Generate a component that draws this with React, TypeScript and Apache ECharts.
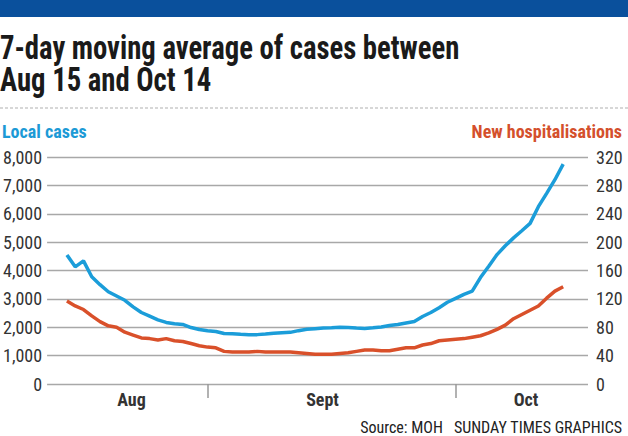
import React, { useEffect, useRef } from "react";
import * as echarts from "echarts";

// Day index: 0 = Aug 15, 17 = Sep 1, 47 = Oct 1, 60 = Oct 14
const localCases: number[] = [
  4550, 4130, 4340, 3780, 3500, 3250, 3100, 2950, 2720, 2520,
  2390, 2260, 2170, 2120, 2100, 1990, 1920, 1880, 1850, 1780,
  1770, 1750, 1740, 1740, 1760, 1790, 1810, 1820, 1880, 1930,
  1950, 1970, 1980, 2000, 1990, 1970, 1960, 1980, 2010, 2060,
  2100, 2150, 2200, 2380, 2520, 2690, 2880, 3020, 3160, 3270,
  3750, 4150, 4560, 4870, 5150, 5400, 5660, 6250, 6720, 7200,
  7750,
];
const hospitalisations: number[] = [
  117, 110, 105, 96, 88, 82, 80, 73, 69, 65,
  64, 62, 64, 61, 60, 57, 54, 52, 51, 46,
  45, 45, 45, 46, 45, 45, 45, 45, 44, 43,
  42, 42, 42, 43, 44, 46, 48, 48, 47, 47,
  49, 51, 51, 55, 57, 61, 62, 63, 64, 66,
  68, 72, 77, 83, 92, 98, 104, 110, 121, 131,
  137,
];
const monthTickDays: number[] = [17, 47];
const monthLabelDays: number[] = [7.8, 30.9, 55.5];
const monthLabels: string[] = ["Aug", "Sept", "Oct"];

const NARROW = '"Liberation Sans Narrow", "Roboto Condensed", "Arial Narrow", "Roboto", sans-serif';
const BLUE = "#1b9dd9";
const RED = "#d9502a";

export default function App() {
  const ref = useRef<HTMLDivElement>(null);
  useEffect(() => {
    if (!ref.current) return;
    const chart = echarts.init(ref.current, undefined, { renderer: "svg" });
    const blue = localCases.map((v, i) => [i, v]);
    const red = hospitalisations.map((v, i) => [i, v]);
    chart.setOption({
      animation: false,
      backgroundColor: "#ffffff",
      grid: { left: 45, right: 40, top: 157, bottom: 52 },
      xAxis: {
        type: "value",
        min: -2.4,
        max: 63,
        axisLine: { show: false },
        splitLine: { show: false },
        axisTick: {
          show: true,
          customValues: monthTickDays,
          length: 14,
          lineStyle: { color: "#999999", width: 1.5 },
        },
        axisLabel: {
          customValues: monthLabelDays,
          formatter: (v: number) => {
            const idx = monthLabelDays.findIndex((d) => Math.abs(d - v) < 0.01);
            return idx >= 0 ? monthLabels[idx] : "";
          },
          color: "#333333",
          fontFamily: NARROW,
          fontSize: 18,
          fontWeight: "bold",
          margin: 6,
        },
      },
      yAxis: [
        {
          type: "value",
          min: 0,
          max: 8000,
          interval: 1000,
          axisLine: { show: false },
          axisTick: { show: false },
          splitLine: { lineStyle: { color: "#a8a8a8", width: 1.3 } },
          axisLabel: {
            color: "#333333",
            fontFamily: NARROW,
            fontSize: 18,
            margin: 5,
            formatter: (v: number) => v.toLocaleString("en-US"),
          },
        },
        {
          type: "value",
          min: 0,
          max: 320,
          interval: 40,
          position: "right",
          axisLine: { show: false },
          axisTick: { show: false },
          splitLine: { show: false },
          axisLabel: {
            color: "#333333",
            fontFamily: NARROW,
            fontSize: 18,
            margin: 8,
          },
        },
      ],
      series: [
        {
          type: "line",
          yAxisIndex: 0,
          data: blue,
          showSymbol: false,
          lineStyle: { color: BLUE, width: 3.5 },
          itemStyle: { color: BLUE },
          z: 3,
        },
        {
          type: "line",
          yAxisIndex: 1,
          data: red,
          showSymbol: false,
          lineStyle: { color: RED, width: 3.5 },
          itemStyle: { color: RED },
          z: 2,
        },
      ],
      graphic: [
        { type: "rect", shape: { x: 0, y: 0, width: 628, height: 17 }, style: { fill: "#0a509c" } },
        {
          type: "text",
          x: 0,
          y: 48,
          scaleX: 0.87,
          style: {
            text: "7-day moving average of cases between",
            fill: "#1a1a1a",
            font: 'bold 33px ' + NARROW,
            lineHeight: 28,
            textVerticalAlign: "middle",
          },
        },
        {
          type: "text",
          x: 0,
          y: 80,
          scaleX: 0.87,
          style: {
            text: "Aug 15 and Oct 14",
            fill: "#1a1a1a",
            font: 'bold 33px ' + NARROW,
            lineHeight: 28,
            textVerticalAlign: "middle",
          },
        },
        {
          type: "line",
          shape: { x1: 0, y1: 108, x2: 628, y2: 108 },
          style: { stroke: "#b0b0b0", lineWidth: 1.2, lineDash: [3, 2] },
        },
        {
          type: "text",
          x: 2,
          y: 131,
          style: {
            text: "Local cases",
            fill: "#1c9ad6",
            font: 'bold 18px ' + NARROW,
            textVerticalAlign: "middle",
          },
        },
        {
          type: "text",
          x: 622,
          y: 131,
          style: {
            text: "New hospitalisations",
            fill: "#d4502c",
            font: 'bold 18px ' + NARROW,
            textAlign: "right",
            textVerticalAlign: "middle",
          },
        },
        {
          type: "text",
          x: 622,
          y: 427,
          style: {
            text: "Source: MOH   SUNDAY TIMES GRAPHICS",
            fill: "#222222",
            font: '16px ' + NARROW,
            textAlign: "right",
            textVerticalAlign: "middle",
          },
        },
      ],
    });
    return () => chart.dispose();
  }, []);
  return <div ref={ref} style={{ width: 628, height: 436, position: "fixed", left: 0, top: 0 }} />;
}
